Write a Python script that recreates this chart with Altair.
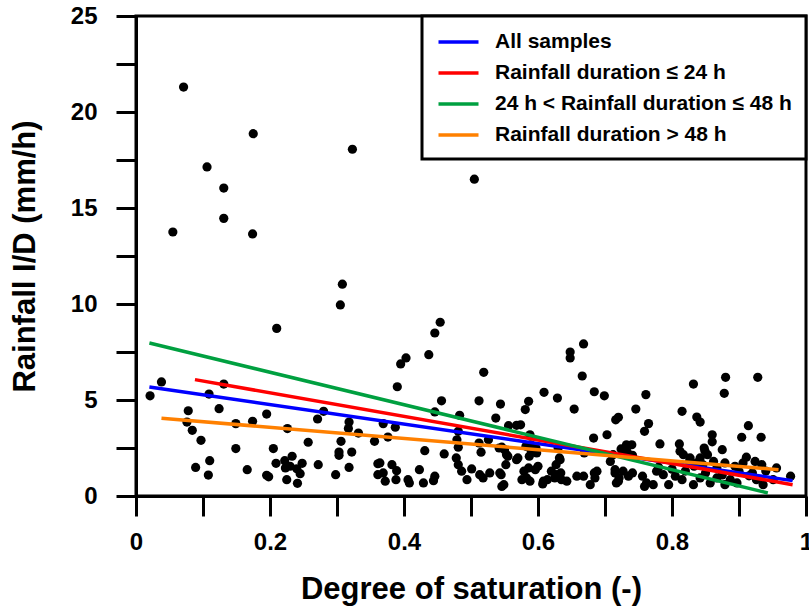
import altair as alt
import pandas as pd

# Scatter samples: degree of saturation (x) and rainfall I/D in mm/h (y)
sat = [
    0.071, 0.175, 0.323, 0.106, 0.131, 0.131, 0.055, 0.174, 0.308, 0.305, 0.505,
    0.210, 0.454, 0.446, 0.437, 0.403, 0.395, 0.519, 0.390, 0.648, 0.648, 0.668,
    0.666, 0.684, 0.699, 0.609, 0.629, 0.654, 0.716, 0.720, 0.703, 0.683, 0.761,
    0.832, 0.880, 0.928, 0.878, 0.746, 0.815, 0.842, 0.837, 0.765, 0.759, 0.914,
    0.904, 0.933, 0.782, 0.811, 0.860, 0.860, 0.849, 0.875, 0.848, 0.853,
    0.038, 0.021, 0.131, 0.109, 0.078, 0.124, 0.076, 0.084, 0.097, 0.149, 0.174,
    0.195, 0.226, 0.271, 0.280, 0.318, 0.317, 0.332, 0.356, 0.149, 0.205, 0.306,
    0.303, 0.303, 0.322, 0.257, 0.110, 0.089, 0.108, 0.166, 0.195, 0.198, 0.209,
    0.222, 0.233, 0.223, 0.230, 0.248, 0.240, 0.245, 0.225, 0.241, 0.272, 0.298,
    0.318, 0.361, 0.361,
    0.456, 0.512, 0.544, 0.586, 0.581, 0.537, 0.446, 0.483, 0.369, 0.387, 0.376,
    0.431, 0.460, 0.479, 0.481, 0.481, 0.512, 0.515, 0.556, 0.568, 0.574, 0.546,
    0.553, 0.568, 0.588, 0.589, 0.597, 0.598, 0.630, 0.633, 0.669, 0.364, 0.382,
    0.389, 0.369, 0.372, 0.388, 0.406, 0.408, 0.423, 0.429, 0.444, 0.446, 0.478,
    0.481, 0.486, 0.494, 0.501, 0.513, 0.518, 0.528, 0.543, 0.546, 0.579, 0.586,
    0.583, 0.596, 0.600, 0.576, 0.588, 0.608, 0.620, 0.625, 0.635, 0.643, 0.658,
    0.668, 0.678, 0.688, 0.685, 0.715, 0.717, 0.708, 0.712, 0.526, 0.542, 0.550,
    0.555, 0.570, 0.552, 0.582, 0.590, 0.587, 0.632, 0.627, 0.545, 0.549, 0.607,
    0.627, 0.634, 0.614, 0.684, 0.721, 0.741, 0.756, 0.759,
    0.732, 0.740, 0.724, 0.733, 0.741, 0.812, 0.817, 0.827, 0.842, 0.837, 0.911,
    0.924, 0.906, 0.934, 0.956, 0.977, 0.715, 0.720, 0.727, 0.735, 0.762, 0.772,
    0.777, 0.787, 0.795, 0.805, 0.815, 0.832, 0.842, 0.857, 0.867, 0.879, 0.887,
    0.897, 0.926, 0.936, 0.951, 0.862, 0.879, 0.867, 0.894, 0.900, 0.826, 0.833,
    0.846, 0.800, 0.780, 0.820, 0.850, 0.875, 0.915, 0.920, 0.940,
]
rid = [
    21.30, 18.87, 18.06, 17.14, 16.04, 14.46, 13.75, 13.65, 11.03, 9.95, 16.50,
    8.73, 9.05, 8.49, 7.36, 7.19, 6.88, 6.44, 5.69, 7.50, 7.19, 7.92,
    6.25, 5.43, 5.22, 5.40, 5.10, 4.53, 3.97, 4.10, 3.19, 3.02, 5.28,
    5.83, 6.18, 6.18, 5.35, 4.53, 4.41, 3.85, 4.11, 3.77, 3.37, 3.66,
    3.06, 3.06, 2.71, 2.71, 3.19, 2.82, 2.36, 2.41, 2.50, 2.15,
    5.94, 5.22, 5.83, 5.31, 4.44, 4.55, 3.85, 3.42, 2.90, 3.77, 3.89,
    4.27, 3.51, 4.01, 4.41, 3.85, 3.51, 3.28, 2.85, 2.47, 2.47, 2.85,
    2.29, 2.12, 2.29, 2.80, 1.84, 1.49, 1.09, 1.37, 1.08, 1.00, 1.70,
    1.84, 2.07, 1.46, 1.55, 1.70, 1.42, 1.16, 0.85, 0.66, 1.63, 1.11,
    1.49, 1.68, 1.11,
    4.96, 4.96, 4.79, 4.93, 4.50, 4.06, 4.38, 4.20, 3.77, 3.58, 3.07,
    2.36, 2.19, 2.93, 2.54, 3.37, 2.76, 2.28, 3.66, 3.68, 3.71, 2.54,
    2.15, 1.89, 3.19, 2.67, 2.50, 2.24, 2.50, 1.89, 2.24, 1.72, 1.63,
    1.32, 1.20, 0.77, 0.85, 0.85, 0.68, 1.37, 0.68, 0.80, 1.03, 1.98,
    1.63, 1.29, 0.85, 1.41, 1.11, 0.94, 1.20, 1.20, 0.50, 1.29, 1.46,
    0.94, 1.37, 1.55, 0.85, 0.77, 0.77, 1.29, 0.94, 0.85, 0.77, 1.03,
    1.03, 0.59, 1.29, 0.94, 1.20, 0.68, 1.80, 2.15, 2.93, 2.50, 2.41,
    2.07, 1.98, 1.63, 2.59, 2.33, 2.07, 1.98, 1.63, 1.11, 0.59, 0.63,
    1.11, 1.20, 0.85, 1.20, 0.94, 1.20, 1.03, 0.50,
    2.67, 2.67, 2.45, 2.30, 2.12, 2.33, 2.15, 1.98, 1.98, 1.72, 2.02,
    1.80, 1.72, 1.63, 1.46, 1.03, 1.37, 0.77, 1.29, 1.03, 0.68, 0.59,
    1.29, 1.11, 0.59, 1.03, 0.85, 0.59, 0.94, 0.68, 0.94, 0.59, 0.85,
    0.68, 0.85, 0.59, 0.85, 1.80, 1.72, 1.46, 1.55, 1.29, 1.80, 1.55,
    1.63, 1.40, 1.50, 1.30, 1.20, 1.10, 1.05, 1.20, 1.30,
]

# Regression lines (start / end points)
series = [
    "All samples",
    "Rainfall duration ≤ 24 h",
    "24 h < Rainfall duration ≤ 48 h",
    "Rainfall duration > 48 h",
]
line_x_start = [0.020, 0.088, 0.020, 0.038]
line_y_start = [5.68, 6.06, 7.97, 4.05]
line_x_end = [0.980, 0.980, 0.943, 0.959]
line_y_end = [0.80, 0.59, 0.16, 1.37]
series_colors = ["#0000FF", "#FF0000", "#00A040", "#FF8000"]

x_ticks = [i / 10 for i in range(11)]
y_ticks = [i * 2.5 for i in range(11)]

pts = pd.DataFrame({"sat": sat, "rid": rid})
rows = []
for i, s in enumerate(series):
    rows.append({"series": s, "sat": line_x_start[i], "rid": line_y_start[i], "k": i})
    rows.append({"series": s, "sat": line_x_end[i], "rid": line_y_end[i], "k": i})
lines_df = pd.DataFrame(rows)

FONT = "Liberation Sans"

x_enc = alt.X(
    "sat:Q",
    scale=alt.Scale(domain=[0, 1], nice=False, zero=False),
    axis=alt.Axis(
        values=x_ticks,
        labelExpr="round(datum.value*10) % 2 == 0 ? '' + round(datum.value*10)/10 : ''",
        title="Degree of saturation (-)",
        titleX=335,
        titleY=102,
        titleAlign="center",
        titleBaseline="alphabetic",
        labelPadding=14,
    ),
)
y_enc = alt.Y(
    "rid:Q",
    scale=alt.Scale(domain=[0, 25], nice=False, zero=False),
    axis=alt.Axis(
        values=y_ticks,
        labelExpr="datum.value % 5 == 0 ? '' + datum.value : ''",
        title="Rainfall I/D (mm/h)",
        titleX=-102,
        titleY=240,
        titleAngle=270,
        titleAlign="center",
        titleBaseline="alphabetic",
        labelPadding=19,
    ),
)

points = alt.Chart(pts).mark_circle(size=85, color="black", opacity=1).encode(x=x_enc, y=y_enc)

lines = alt.Chart(lines_df).mark_line(strokeWidth=3.5).encode(
    x="sat:Q",
    y="rid:Q",
    color=alt.Color(
        "series:N",
        scale=alt.Scale(domain=series, range=series_colors),
        legend=alt.Legend(
            title=None,
            orient="none",
            legendX=286,
            legendY=0,
        ),
    ),
    order="k:Q",
)

chart = (
    alt.layer(points, lines)
    .properties(
        width=670,
        height=480,
        autosize=alt.AutoSizeParams(type="none"),
        padding={"left": 136, "top": 16, "right": 3, "bottom": 118},
        background="white",
    )
    .configure_view(stroke="black", strokeWidth=3)
    .configure_axis(
        grid=False,
        domainColor="black",
        domainWidth=3,
        tickColor="black",
        tickWidth=3,
        tickSize=20,
        labelFont=FONT,
        labelFontSize=24,
        labelFontWeight="bold",
        labelColor="black",
        titleFont=FONT,
        titleFontSize=31,
        titleFontWeight="bold",
        titleColor="black",
        labelOverlap=False,
        labelFlush=False,
    )
    .configure_legend(
        fillColor="white",
        strokeColor="black",
        strokeWidth=3,
        padding=14,
        symbolType="M-2,0H2",
        symbolSize=400,
        symbolStrokeWidth=3.5,
        symbolOffset=10.5,
        labelOffset=24.5,
        rowPadding=9,
        labelFont=FONT,
        labelFontSize=21,
        labelFontWeight="bold",
        labelColor="black",
        labelLimit=600,
    )
)

chart.save("out.html", embed_options={"renderer": "svg", "actions": False})
